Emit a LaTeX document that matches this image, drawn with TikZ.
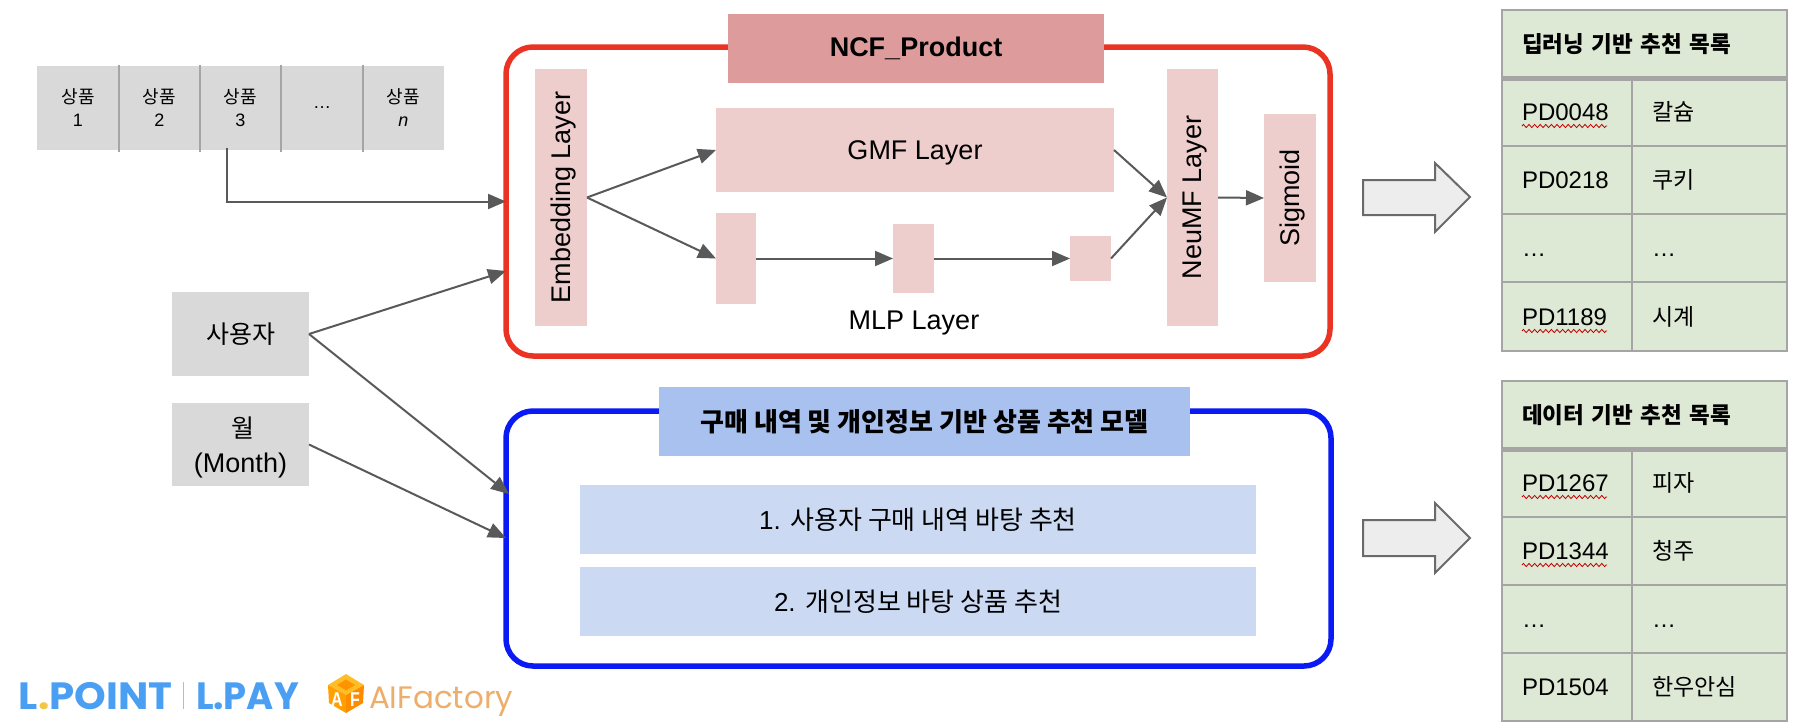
\documentclass[tikz,border=0pt]{standalone}
\usepackage{fontspec}
\setmainfont{Liberation Sans}
\newfontfamily\kr{Noto Sans CJK KR}
\newfontfamily\pop{Poppins}
\usetikzlibrary{arrows.meta,decorations.pathmorphing,calc}
\definecolor{gcell}{HTML}{D9D9D9}
\definecolor{gline}{HTML}{A5A5A5}
\definecolor{arrowc}{HTML}{595959}
\definecolor{redline}{HTML}{EA3323}
\definecolor{blueline}{HTML}{0A1AF5}
\definecolor{rtitle}{HTML}{DD9C9B}
\definecolor{rpale}{HTML}{EECDCD}
\definecolor{btitle}{HTML}{A9C1EE}
\definecolor{bpale}{HTML}{CBD9F3}
\definecolor{gtab}{HTML}{DDE8D5}
\definecolor{lblue}{HTML}{4A9FF2}
\definecolor{ldot}{HTML}{F2C744}
\definecolor{orangeT}{HTML}{EDAE6C}
\newcommand{\fs}[1]{\fontsize{#1}{#1}\selectfont}
\newcommand{\rot}[1]{\rotatebox{90}{\raisebox{0pt}[\height][0pt]{#1}}}
\tikzset{
  x=1pt,y=-1pt,
  box/.style={anchor=north west,inner sep=0pt,outer sep=0pt,align=center},
  cell/.style={box,fill=gcell},
  lay/.style={box,fill=rpale,font=\fs{27},text depth=0pt},
  lbl/.style={inner sep=0pt,outer sep=0pt},
  conn/.style={draw=arrowc,line width=2pt,-{Triangle[length=18pt,width=15pt]}},
  frame/.style={box,draw,line width=5.5pt,rounded corners=27pt,fill=white},
  blockarrow/.style={draw=arrowc!90,line width=2pt,fill=black!7,line join=miter},
  tcell/.style={box,fill=gtab,draw=gline,line width=2pt,align=left,inner xsep=20pt,text height=17pt,text depth=0pt,font=\fs{24}},
  wavy/.style={draw=red!75!black,line width=.8pt,decorate,decoration={zigzag,amplitude=1.6pt,segment length=5.6pt}},
}
\begin{document}
\begin{tikzpicture}
\useasboundingbox (0,0) rectangle (1804,724);
% product strip
\foreach \nm/\xa/\w/\t in {p1/37/82/{{\kr 상품}\\1},p2/119/81/{{\kr 상품}\\2},p3/200/81/{{\kr 상품}\\3},p4/281/82/{…},p5/363/81/{{\kr 상품}\\\textit{n}}}{
  \node[cell,minimum width=\w pt,minimum height=84pt,font=\fontsize{18}{23}\selectfont] (\nm) at (\xa,66) {\t};
}
\foreach \nm in {p1,p2,p3,p4}{
  \draw[gline,line width=2pt] ([yshift=1pt]\nm.north east) -- ([yshift=-1.5pt]\nm.south east);
}
% left inputs
\node[cell,minimum width=137pt,minimum height=84pt,font=\kr\fs{25}] (user) at (172,292) {사용자};
\node[cell,minimum width=137pt,minimum height=83pt,text depth=0pt,font=\fontsize{27}{35}\selectfont] (month) at (172,403) {{\kr\fs{25} 월}\\(Month)};
% red frame
\node[frame,draw=redline,minimum width=824pt,minimum height=309pt] (red) at (506,47) {};
\node[box,fill=rtitle,minimum width=376pt,minimum height=69pt,font=\bfseries\fs{27}] (rt) at (728,14) {NCF\_Product};
\node[lay,minimum width=52pt,minimum height=257pt] (emb) at (535,69) {\rot{Embedding Layer}};
\node[lay,minimum width=398pt,minimum height=84pt] (gmf) at (716,108) {GMF Layer};
\node[lay,minimum width=40pt,minimum height=91pt] (m1) at (716,213) {};
\node[lay,minimum width=41pt,minimum height=69pt] (m2) at (893,224) {};
\node[lay,minimum width=41pt,minimum height=45pt] (m3) at (1070,236) {};
\node[lbl,font=\fs{27},text depth=0pt] (mlpl) at (914,320) {MLP Layer};
\node[lay,minimum width=51pt,minimum height=257pt] (neu) at (1167,69) {\rot{NeuMF Layer}};
\node[lay,minimum width=52pt,minimum height=168pt] (sig) at (1264,114) {\rot{Sigmoid}};
% blue frame
\node[frame,draw=blueline,minimum width=825pt,minimum height=255pt] (blue) at (506,411) {};
\node[box,fill=btitle,minimum width=531pt,minimum height=69pt,font=\kr\bfseries\fs{26}] (bt) at (659,387) {구매 내역 및 개인정보 기반 상품 추천 모델};
\node[box,fill=bpale,minimum width=676pt,minimum height=69pt,font=\fs{26}] (b1) at (580,485) {1. {\kr 사용자 구매 내역 바탕 추천}};
\node[box,fill=bpale,minimum width=676pt,minimum height=69pt,font=\fs{26}] (b2) at (580,567) {2. {\kr 개인정보 바탕 상품 추천}};
% connectors
\coordinate (pstart) at (227,148);
\coordinate (redA) at (506,271);
\coordinate (blueA) at (509,494);
\coordinate (blueB) at (506,538);
\draw[conn] (pstart) |- (red.west);
\draw[conn] (user.east) -- (redA);
\draw[conn] (user.east) -- (blueA);
\draw[conn] (month.east) -- (blueB);
\draw[conn] (emb.east) -- (gmf.west);
\draw[conn] (emb.east) -- (m1.west);
\draw[conn] (m1.east) -- (m2.west);
\draw[conn] (m2.east) -- (m3.west);
\draw[conn] (gmf.east) -- (neu.west);
\draw[conn] (m3.east) -- (neu.west);
\draw[conn] (neu.east) -- (sig.west);
% block arrows
\draw[blockarrow] (1363,180) -- (1435,180) -- (1435,163) -- (1470,197) -- (1435,232) -- (1435,215) -- (1363,215) -- cycle;
\draw[blockarrow] (1363,520) -- (1435,520) -- (1435,503) -- (1470,538) -- (1435,573) -- (1435,556) -- (1363,556) -- cycle;
% table 1
\node[tcell,minimum width=285pt,text width=245pt,minimum height=68pt,font=\kr\bfseries\fs{22.5}] (h1) at (1502,10) {딥러닝 기반 추천 목록};
\node[tcell,text width=90pt,minimum height=68pt] (a1) at (1502,78) {PD0048};
\node[tcell,text width=115pt,minimum height=68pt] (a2) at (1632,78) {{\kr\fs{23}칼슘}};
\node[tcell,text width=90pt,minimum height=68pt] (b1a) at (1502,146) {PD0218};
\node[tcell,text width=115pt,minimum height=68pt] (b2a) at (1632,146) {{\kr\fs{23}쿠키}};
\node[tcell,text width=90pt,minimum height=68pt] (c1a) at (1502,214) {…};
\node[tcell,text width=115pt,minimum height=68pt] (c2a) at (1632,214) {…};
\node[tcell,text width=90pt,minimum height=69pt] (d1a) at (1502,282) {PD1189};
\node[tcell,text width=115pt,minimum height=69pt] (d2a) at (1632,282) {{\kr\fs{23}시계}};
\draw[gline,line width=5pt] (h1.south west) -- (h1.south east);
% table 2
\node[tcell,minimum width=285pt,text width=245pt,minimum height=68pt,font=\kr\bfseries\fs{22.5}] (h2) at (1502,381) {데이터 기반 추천 목록};
\node[tcell,text width=90pt,minimum height=68pt] (a3) at (1502,449) {PD1267};
\node[tcell,text width=115pt,minimum height=68pt] (a4) at (1632,449) {{\kr\fs{23}피자}};
\node[tcell,text width=90pt,minimum height=68pt] (b3) at (1502,517) {PD1344};
\node[tcell,text width=115pt,minimum height=68pt] (b4) at (1632,517) {{\kr\fs{23}청주}};
\node[tcell,text width=90pt,minimum height=68pt] (c3) at (1502,585) {…};
\node[tcell,text width=115pt,minimum height=68pt] (c4) at (1632,585) {…};
\node[tcell,text width=90pt,minimum height=68pt] (d3) at (1502,653) {PD1504};
\node[tcell,text width=115pt,minimum height=68pt] (d4) at (1632,653) {{\kr\fs{23}한우안심}};
\draw[gline,line width=5pt] (h2.south west) -- (h2.south east);
% spell-check squiggles
\draw[wavy] (1522,126) -- (1607,126);
\draw[wavy] (1522,331) -- (1607,331);
\draw[wavy] (1522,497) -- (1607,497);
\draw[wavy] (1522,565) -- (1607,565);
% logo L.POINT | L.PAY
\node[lbl,anchor=base west,text=lblue,font=\pop\bfseries\fs{38}] (lp) at (19,709) {\scalebox{1.06}[1]{L{\color{ldot}.}POINT}};
\node[lbl,anchor=base west,text=lblue,font=\pop\bfseries\fs{38}] (lq) at (196,709) {\scalebox{.97}[1]{L.PAY}};
\fill[lblue!60] (182.5,682) rectangle (184,709);
% logo AIFactory
\fill[orange!60!yellow!85!white] (346,674) -- (364,685) -- (346,695) -- (328,685) -- cycle;
\fill[orange!85!yellow] (346,679.5) -- (355,685) -- (346,690.5) -- (337,685) -- cycle;
\fill[orange!75!yellow] (328,685) -- (346,695) -- (346,713) -- (329,703) -- cycle;
\fill[orange!90!yellow] (364,685) -- (346,695) -- (346,713) -- (363,703) -- cycle;
\node[lbl,text=white,font=\bfseries\fs{20}] (ia) at (337,700) {\scalebox{.8}[1]{A}};
\node[lbl,text=white,font=\bfseries\fs{20}] (if) at (355,700) {\scalebox{.8}[1]{F}};
\node[lbl,anchor=base west,text=orangeT,font=\pop\fs{31}] (aif) at (369,708) {AIFactory};
\end{tikzpicture}
\end{document}
